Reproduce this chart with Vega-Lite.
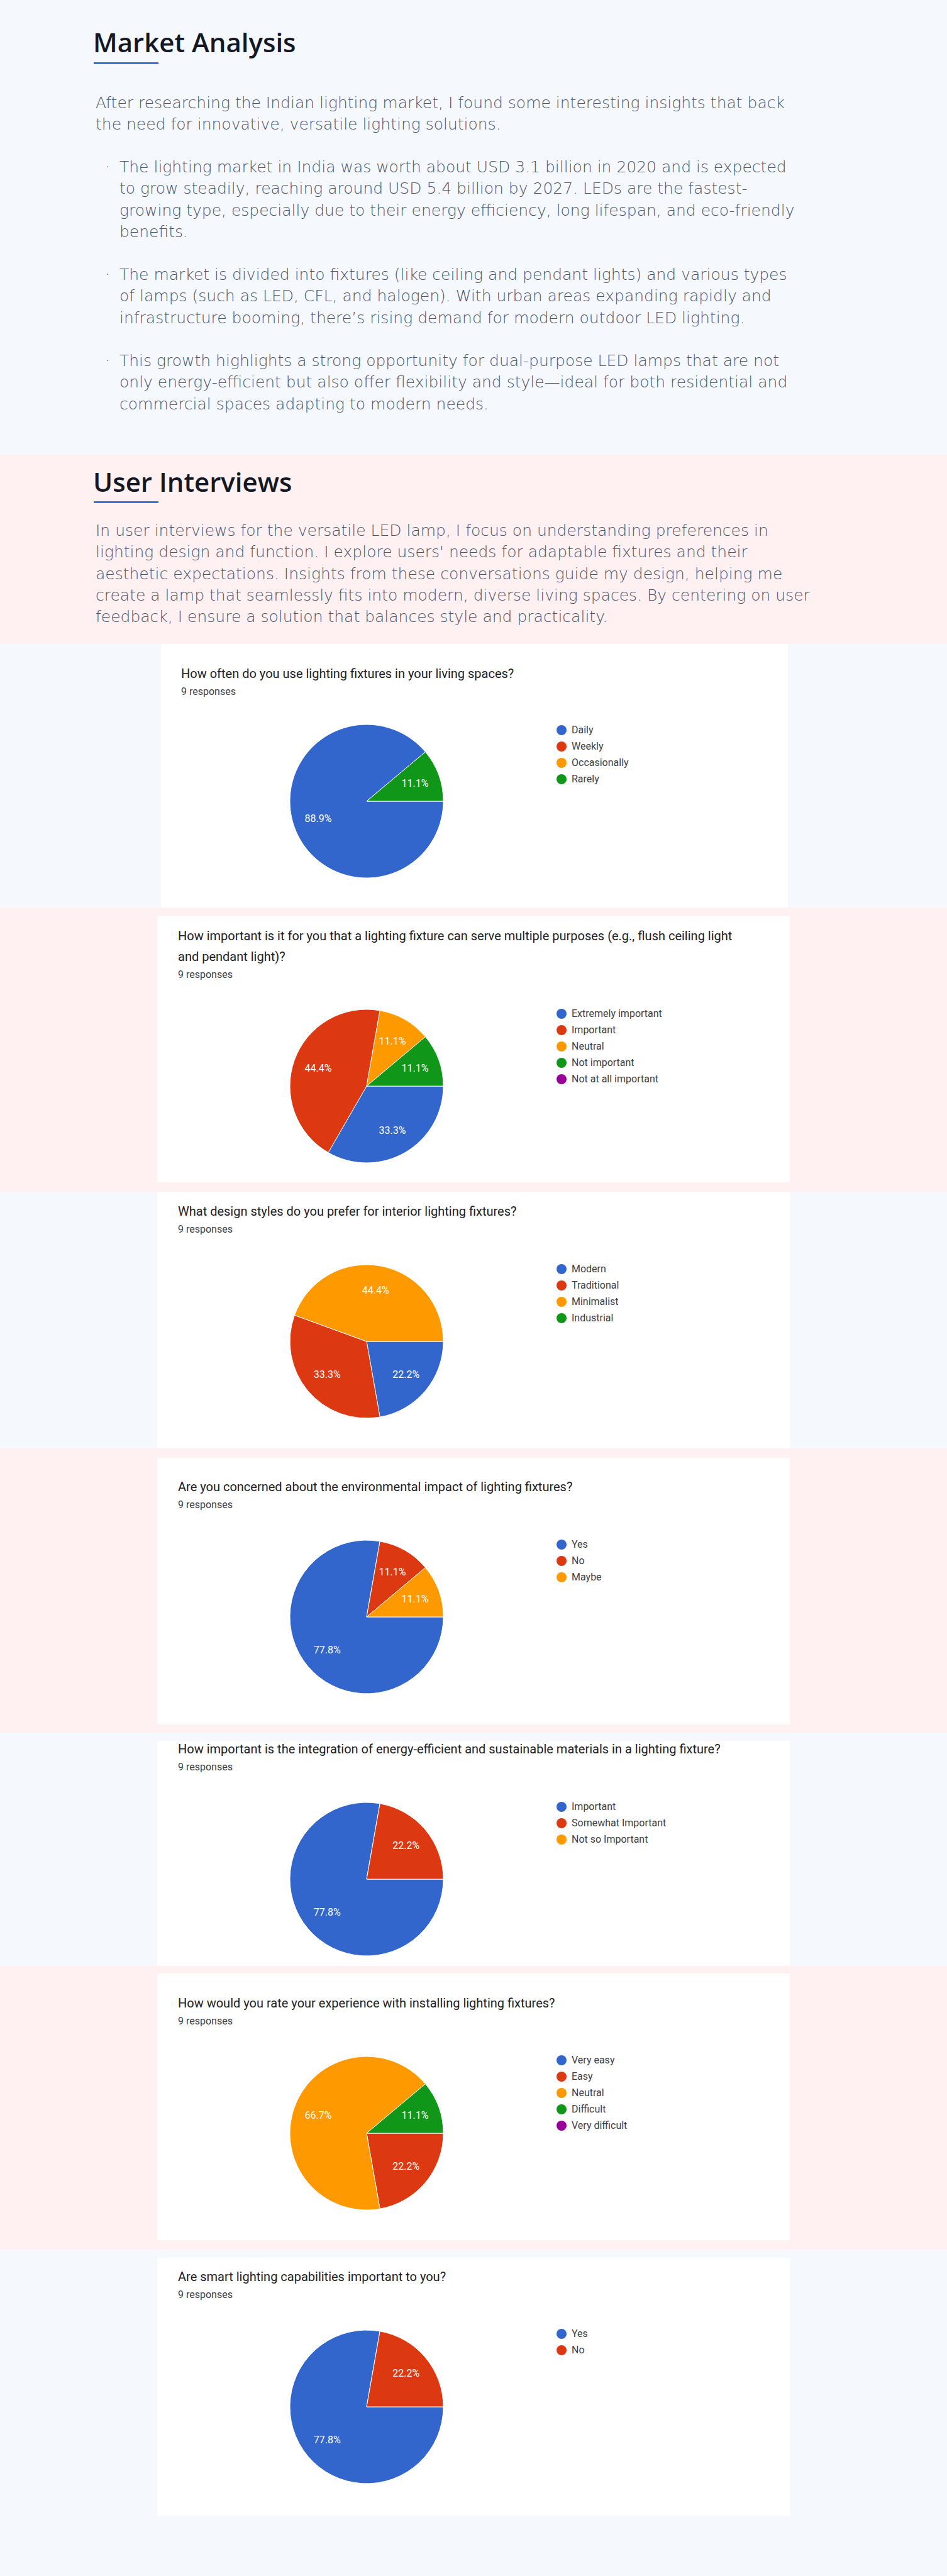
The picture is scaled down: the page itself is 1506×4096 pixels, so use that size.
{
  "$schema": "https://vega.github.io/schema/vega-lite/v6.json",
  "padding": 0,
  "background": "#ffffff",
  "spacing": 0,
  "bounds": "full",
  "resolve": {"scale": {"color": "independent"}},
  "config": {
    "view": {"stroke": null},
    "title": {"anchor": "start", "frame": "group", "orient": "bottom", "font": "Roboto", "fontSize": 20, "fontWeight": 400, "color": "#202124", "subtitleFont": "Roboto", "subtitleFontSize": 16, "subtitleColor": "#3c4043", "subtitlePadding": 10, "lineHeight": 33}
  },
  "datasets": {
    "responses": [
      {"question": 1, "rank": 1, "option": "Daily", "count": 8, "share": 0.8889},
      {"question": 1, "rank": 2, "option": "Weekly", "count": 0, "share": 0},
      {"question": 1, "rank": 3, "option": "Occasionally", "count": 0, "share": 0},
      {"question": 1, "rank": 4, "option": "Rarely", "count": 1, "share": 0.1111},
      {"question": 2, "rank": 1, "option": "Extremely important", "count": 3, "share": 0.3333},
      {"question": 2, "rank": 2, "option": "Important", "count": 4, "share": 0.4444},
      {"question": 2, "rank": 3, "option": "Neutral", "count": 1, "share": 0.1111},
      {"question": 2, "rank": 4, "option": "Not important", "count": 1, "share": 0.1111},
      {"question": 2, "rank": 5, "option": "Not at all important", "count": 0, "share": 0},
      {"question": 3, "rank": 1, "option": "Modern", "count": 2, "share": 0.2222},
      {"question": 3, "rank": 2, "option": "Traditional", "count": 3, "share": 0.3333},
      {"question": 3, "rank": 3, "option": "Minimalist", "count": 4, "share": 0.4444},
      {"question": 3, "rank": 4, "option": "Industrial", "count": 0, "share": 0},
      {"question": 4, "rank": 1, "option": "Yes", "count": 7, "share": 0.7778},
      {"question": 4, "rank": 2, "option": "No", "count": 1, "share": 0.1111},
      {"question": 4, "rank": 3, "option": "Maybe", "count": 1, "share": 0.1111},
      {"question": 5, "rank": 1, "option": "Important", "count": 7, "share": 0.7778},
      {"question": 5, "rank": 2, "option": "Somewhat Important", "count": 2, "share": 0.2222},
      {"question": 5, "rank": 3, "option": "Not so Important", "count": 0, "share": 0},
      {"question": 6, "rank": 1, "option": "Very easy", "count": 0, "share": 0},
      {"question": 6, "rank": 2, "option": "Easy", "count": 2, "share": 0.2222},
      {"question": 6, "rank": 3, "option": "Neutral", "count": 6, "share": 0.6667},
      {"question": 6, "rank": 4, "option": "Difficult", "count": 1, "share": 0.1111},
      {"question": 6, "rank": 5, "option": "Very difficult", "count": 0, "share": 0},
      {"question": 7, "rank": 1, "option": "Yes", "count": 7, "share": 0.7778},
      {"question": 7, "rank": 2, "option": "No", "count": 2, "share": 0.2222}
    ]
  },
  "vconcat": [
    {"width": 1506, "height": 99, "data": {"values": []}, "mark": "rect", "view": {"fill": "#f5f9fe"},
     "title": {"text": "Market Analysis", "font": "Open Sans", "fontSize": 42, "fontWeight": 600, "color": "#141824", "offset": -49, "dx": 148}},
    {"hconcat": [
      {"width": 149, "height": 3, "data": {"values": []}, "mark": "rect", "view": {"fill": "#f5f9fe"}},
      {"width": 103, "height": 3, "data": {"values": []}, "mark": "rect", "view": {"fill": "#3f6fdc"}},
      {"width": 1254, "height": 3, "data": {"values": []}, "mark": "rect", "view": {"fill": "#f5f9fe"}}
    ], "spacing": 0, "bounds": "flush"},
    {"width": 1506, "height": 138, "data": {"values": []}, "mark": "rect", "view": {"fill": "#f5f9fe"},
     "title": {"text": ["After researching the Indian lighting market, I found some interesting insights that back", "the need for innovative, versatile lighting solutions."], "font": "DejaVu Sans ExtraLight, DejaVu Sans", "fontSize": 25, "fontWeight": 200, "color": "#4e5569", "lineHeight": 34.3, "offset": -88, "dx": 152}},
    {"hconcat": [
      {"width": 190, "height": 171, "data": {"values": []}, "mark": "rect", "view": {"fill": "#f5f9fe"},
       "title": {"text": "·", "font": "DejaVu Sans ExtraLight, DejaVu Sans", "fontSize": 25, "fontWeight": 200, "color": "#4e5569", "offset": -157, "dx": 167}},
      {"width": 1316, "height": 171, "data": {"values": []}, "mark": "rect", "view": {"fill": "#f5f9fe"},
       "title": {"text": [
         "The lighting market in India was worth about USD 3.1 billion in 2020 and is expected",
         "to grow steadily, reaching around USD 5.4 billion by 2027. LEDs are the fastest-",
         "growing type, especially due to their energy efficiency, long lifespan, and eco-friendly",
         "benefits."
       ], "font": "DejaVu Sans ExtraLight, DejaVu Sans", "fontSize": 25, "fontWeight": 200, "color": "#4e5569", "lineHeight": 34.3, "offset": -157, "dx": 0}}
    ], "spacing": 0, "bounds": "flush"},
    {"hconcat": [
      {"width": 190, "height": 137, "data": {"values": []}, "mark": "rect", "view": {"fill": "#f5f9fe"},
       "title": {"text": "·", "font": "DejaVu Sans ExtraLight, DejaVu Sans", "fontSize": 25, "fontWeight": 200, "color": "#4e5569", "offset": -123, "dx": 167}},
      {"width": 1316, "height": 137, "data": {"values": []}, "mark": "rect", "view": {"fill": "#f5f9fe"},
       "title": {"text": [
         "The market is divided into fixtures (like ceiling and pendant lights) and various types",
         "of lamps (such as LED, CFL, and halogen). With urban areas expanding rapidly and",
         "infrastructure booming, there’s rising demand for modern outdoor LED lighting."
       ], "font": "DejaVu Sans ExtraLight, DejaVu Sans", "fontSize": 25, "fontWeight": 200, "color": "#4e5569", "lineHeight": 34.3, "offset": -123, "dx": 0}}
    ], "spacing": 0, "bounds": "flush"},
    {"hconcat": [
      {"width": 190, "height": 175, "data": {"values": []}, "mark": "rect", "view": {"fill": "#f5f9fe"},
       "title": {"text": "·", "font": "DejaVu Sans ExtraLight, DejaVu Sans", "fontSize": 25, "fontWeight": 200, "color": "#4e5569", "offset": -161, "dx": 167}},
      {"width": 1316, "height": 175, "data": {"values": []}, "mark": "rect", "view": {"fill": "#f5f9fe"},
       "title": {"text": [
         "This growth highlights a strong opportunity for dual-purpose LED lamps that are not",
         "only energy-efficient but also offer flexibility and style—ideal for both residential and",
         "commercial spaces adapting to modern needs."
       ], "font": "DejaVu Sans ExtraLight, DejaVu Sans", "fontSize": 25, "fontWeight": 200, "color": "#4e5569", "lineHeight": 34.3, "offset": -161, "dx": 0}}
    ], "spacing": 0, "bounds": "flush"},
    {"width": 1506, "height": 74, "data": {"values": []}, "mark": "rect", "view": {"fill": "#fff1f1"},
     "title": {"text": "User Interviews", "font": "Open Sans", "fontSize": 42, "fontWeight": 600, "color": "#141824", "offset": -48, "dx": 148}},
    {"hconcat": [
      {"width": 149, "height": 3, "data": {"values": []}, "mark": "rect", "view": {"fill": "#fff1f1"}},
      {"width": 103, "height": 3, "data": {"values": []}, "mark": "rect", "view": {"fill": "#3f6fdc"}},
      {"width": 1254, "height": 3, "data": {"values": []}, "mark": "rect", "view": {"fill": "#fff1f1"}}
    ], "spacing": 0, "bounds": "flush"},
    {"width": 1506, "height": 224, "data": {"values": []}, "mark": "rect", "view": {"fill": "#fff1f1"},
     "title": {"text": [
       "In user interviews for the versatile LED lamp, I focus on understanding preferences in",
       "lighting design and function. I explore users' needs for adaptable fixtures and their",
       "aesthetic expectations. Insights from these conversations guide my design, helping me",
       "create a lamp that seamlessly fits into modern, diverse living spaces. By centering on user",
       "feedback, I ensure a solution that balances style and practicality."
     ], "font": "DejaVu Sans ExtraLight, DejaVu Sans", "fontSize": 25, "fontWeight": 200, "color": "#4e5569", "lineHeight": 34.3, "offset": -192, "dx": 152}},

    {"hconcat": [
      {"width": 256, "height": 419, "data": {"values": []}, "mark": "rect", "view": {"fill": "#f5f9fe"}},
      {"vconcat": [
        {"width": 997, "height": 120, "data": {"values": []}, "mark": "rect",
         "title": {"text": "How often do you use lighting fixtures in your living spaces?", "subtitle": "9 responses", "offset": -82, "dx": 32}},
        {"width": 654, "height": 260, "data": {"name": "responses"},
         "transform": [{"filter": "datum.question == 1 && datum.count > 0"}],
         "encoding": {"theta": {"field": "count", "type": "quantitative", "stack": true, "scale": {"range": [1.5707963, 7.8539816]}}, "order": {"field": "rank", "type": "quantitative"}},
         "layer": [
           {"mark": {"type": "arc", "radius": 122, "stroke": "#ffffff", "strokeWidth": 1},
            "encoding": {"color": {"field": "option", "type": "nominal", "scale": {"domain": ["Daily", "Weekly", "Occasionally", "Rarely"], "range": ["#3366cc", "#dc3912", "#ff9900", "#109618"]},
              "legend": {"orient": "none", "legendX": 629, "legendY": 9, "title": null, "direction": "vertical", "symbolType": "circle", "symbolSize": 256, "symbolStrokeWidth": 0, "symbolOpacity": 1, "labelFont": "Roboto", "labelFontSize": 16, "labelColor": "#3c4043", "labelOffset": 8, "rowPadding": 10, "padding": 0}}}},
           {"mark": {"type": "text", "radius": 82, "font": "Roboto", "fontSize": 16, "fill": "#ffffff"},
            "encoding": {"text": {"field": "share", "type": "quantitative", "format": ".1%"}}}
         ]}
      ], "spacing": 0, "bounds": "flush", "resolve": {"scale": {"color": "independent"}}},
      {"width": 253, "height": 419, "data": {"values": []}, "mark": "rect", "view": {"fill": "#f5f9fe"}}
    ], "spacing": 0, "bounds": "full", "resolve": {"scale": {"color": "independent"}}},

    {"width": 1506, "height": 14, "data": {"values": []}, "mark": "rect", "view": {"fill": "#fff1f1"}},
    {"hconcat": [
      {"width": 250, "height": 423, "data": {"values": []}, "mark": "rect", "view": {"fill": "#fff1f1"}},
      {"vconcat": [
        {"width": 1006, "height": 140, "data": {"values": []}, "mark": "rect",
         "title": {"text": ["How important is it for you that a lighting fixture can serve multiple purposes (e.g., flush ceiling light", "and pendant light)?"], "subtitle": "9 responses", "offset": -118, "dx": 33}},
        {"width": 666, "height": 260, "data": {"name": "responses"},
         "transform": [{"filter": "datum.question == 2 && datum.count > 0"}],
         "encoding": {"theta": {"field": "count", "type": "quantitative", "stack": true, "scale": {"range": [1.5707963, 7.8539816]}}, "order": {"field": "rank", "type": "quantitative"}},
         "layer": [
           {"mark": {"type": "arc", "radius": 122, "stroke": "#ffffff", "strokeWidth": 1},
            "encoding": {"color": {"field": "option", "type": "nominal", "scale": {"domain": ["Extremely important", "Important", "Neutral", "Not important", "Not at all important"], "range": ["#3366cc", "#dc3912", "#ff9900", "#109618", "#990099"]},
              "legend": {"orient": "none", "legendX": 635, "legendY": 7, "title": null, "direction": "vertical", "symbolType": "circle", "symbolSize": 256, "symbolStrokeWidth": 0, "symbolOpacity": 1, "labelFont": "Roboto", "labelFontSize": 16, "labelColor": "#3c4043", "labelOffset": 8, "rowPadding": 10, "padding": 0}}}},
           {"mark": {"type": "text", "radius": 82, "font": "Roboto", "fontSize": 16, "fill": "#ffffff"},
            "encoding": {"text": {"field": "share", "type": "quantitative", "format": ".1%"}}}
         ]}
      ], "spacing": 0, "bounds": "flush", "resolve": {"scale": {"color": "independent"}}},
      {"width": 250, "height": 423, "data": {"values": []}, "mark": "rect", "view": {"fill": "#fff1f1"}}
    ], "spacing": 0, "bounds": "full", "resolve": {"scale": {"color": "independent"}}},
    {"width": 1506, "height": 15, "data": {"values": []}, "mark": "rect", "view": {"fill": "#fff1f1"}},

    {"hconcat": [
      {"width": 250, "height": 408, "data": {"values": []}, "mark": "rect", "view": {"fill": "#f5f9fe"}},
      {"vconcat": [
        {"width": 1006, "height": 108, "data": {"values": []}, "mark": "rect",
         "title": {"text": "What design styles do you prefer for interior lighting fixtures?", "subtitle": "9 responses", "offset": -86, "dx": 33}},
        {"width": 666, "height": 260, "data": {"name": "responses"},
         "transform": [{"filter": "datum.question == 3 && datum.count > 0"}],
         "encoding": {"theta": {"field": "count", "type": "quantitative", "stack": true, "scale": {"range": [1.5707963, 7.8539816]}}, "order": {"field": "rank", "type": "quantitative"}},
         "layer": [
           {"mark": {"type": "arc", "radius": 122, "stroke": "#ffffff", "strokeWidth": 1},
            "encoding": {"color": {"field": "option", "type": "nominal", "scale": {"domain": ["Modern", "Traditional", "Minimalist", "Industrial"], "range": ["#3366cc", "#dc3912", "#ff9900", "#109618"]},
              "legend": {"orient": "none", "legendX": 635, "legendY": 7, "title": null, "direction": "vertical", "symbolType": "circle", "symbolSize": 256, "symbolStrokeWidth": 0, "symbolOpacity": 1, "labelFont": "Roboto", "labelFontSize": 16, "labelColor": "#3c4043", "labelOffset": 8, "rowPadding": 10, "padding": 0}}}},
           {"mark": {"type": "text", "radius": 82, "font": "Roboto", "fontSize": 16, "fill": "#ffffff"},
            "encoding": {"text": {"field": "share", "type": "quantitative", "format": ".1%"}}}
         ]}
      ], "spacing": 0, "bounds": "flush", "resolve": {"scale": {"color": "independent"}}},
      {"width": 250, "height": 408, "data": {"values": []}, "mark": "rect", "view": {"fill": "#f5f9fe"}}
    ], "spacing": 0, "bounds": "full", "resolve": {"scale": {"color": "independent"}}},

    {"width": 1506, "height": 15, "data": {"values": []}, "mark": "rect", "view": {"fill": "#fff1f1"}},
    {"hconcat": [
      {"width": 250, "height": 424, "data": {"values": []}, "mark": "rect", "view": {"fill": "#fff1f1"}},
      {"vconcat": [
        {"width": 1006, "height": 123, "data": {"values": []}, "mark": "rect",
         "title": {"text": "Are you concerned about the environmental impact of lighting fixtures?", "subtitle": "9 responses", "offset": -86, "dx": 33}},
        {"width": 666, "height": 260, "data": {"name": "responses"},
         "transform": [{"filter": "datum.question == 4 && datum.count > 0"}],
         "encoding": {"theta": {"field": "count", "type": "quantitative", "stack": true, "scale": {"range": [1.5707963, 7.8539816]}}, "order": {"field": "rank", "type": "quantitative"}},
         "layer": [
           {"mark": {"type": "arc", "radius": 122, "stroke": "#ffffff", "strokeWidth": 1},
            "encoding": {"color": {"field": "option", "type": "nominal", "scale": {"domain": ["Yes", "No", "Maybe"], "range": ["#3366cc", "#dc3912", "#ff9900"]},
              "legend": {"orient": "none", "legendX": 635, "legendY": 7, "title": null, "direction": "vertical", "symbolType": "circle", "symbolSize": 256, "symbolStrokeWidth": 0, "symbolOpacity": 1, "labelFont": "Roboto", "labelFontSize": 16, "labelColor": "#3c4043", "labelOffset": 8, "rowPadding": 10, "padding": 0}}}},
           {"mark": {"type": "text", "radius": 82, "font": "Roboto", "fontSize": 16, "fill": "#ffffff"},
            "encoding": {"text": {"field": "share", "type": "quantitative", "format": ".1%"}}}
         ]}
      ], "spacing": 0, "bounds": "flush", "resolve": {"scale": {"color": "independent"}}},
      {"width": 250, "height": 424, "data": {"values": []}, "mark": "rect", "view": {"fill": "#fff1f1"}}
    ], "spacing": 0, "bounds": "full", "resolve": {"scale": {"color": "independent"}}},
    {"width": 1506, "height": 13, "data": {"values": []}, "mark": "rect", "view": {"fill": "#fff1f1"}},

    {"width": 1506, "height": 13, "data": {"values": []}, "mark": "rect", "view": {"fill": "#f5f9fe"}},
    {"hconcat": [
      {"width": 250, "height": 358, "data": {"values": []}, "mark": "rect", "view": {"fill": "#f5f9fe"}},
      {"vconcat": [
        {"width": 1006, "height": 90, "data": {"values": []}, "mark": "rect",
         "title": {"text": "How important is the integration of energy-efficient and sustainable materials in a lighting fixture?", "subtitle": "9 responses", "offset": -86, "dx": 33}},
        {"width": 666, "height": 260, "data": {"name": "responses"},
         "transform": [{"filter": "datum.question == 5 && datum.count > 0"}],
         "encoding": {"theta": {"field": "count", "type": "quantitative", "stack": true, "scale": {"range": [1.5707963, 7.8539816]}}, "order": {"field": "rank", "type": "quantitative"}},
         "layer": [
           {"mark": {"type": "arc", "radius": 122, "stroke": "#ffffff", "strokeWidth": 1},
            "encoding": {"color": {"field": "option", "type": "nominal", "scale": {"domain": ["Important", "Somewhat Important", "Not so Important"], "range": ["#3366cc", "#dc3912", "#ff9900"]},
              "legend": {"orient": "none", "legendX": 635, "legendY": 7, "title": null, "direction": "vertical", "symbolType": "circle", "symbolSize": 256, "symbolStrokeWidth": 0, "symbolOpacity": 1, "labelFont": "Roboto", "labelFontSize": 16, "labelColor": "#3c4043", "labelOffset": 8, "rowPadding": 10, "padding": 0}}}},
           {"mark": {"type": "text", "radius": 82, "font": "Roboto", "fontSize": 16, "fill": "#ffffff"},
            "encoding": {"text": {"field": "share", "type": "quantitative", "format": ".1%"}}}
         ]}
      ], "spacing": 0, "bounds": "flush", "resolve": {"scale": {"color": "independent"}}},
      {"width": 250, "height": 358, "data": {"values": []}, "mark": "rect", "view": {"fill": "#f5f9fe"}}
    ], "spacing": 0, "bounds": "full", "resolve": {"scale": {"color": "independent"}}},

    {"width": 1506, "height": 12, "data": {"values": []}, "mark": "rect", "view": {"fill": "#fff1f1"}},
    {"hconcat": [
      {"width": 250, "height": 424, "data": {"values": []}, "mark": "rect", "view": {"fill": "#fff1f1"}},
      {"vconcat": [
        {"width": 1006, "height": 124, "data": {"values": []}, "mark": "rect",
         "title": {"text": "How would you rate your experience with installing lighting fixtures?", "subtitle": "9 responses", "offset": -86, "dx": 33}},
        {"width": 666, "height": 260, "data": {"name": "responses"},
         "transform": [{"filter": "datum.question == 6 && datum.count > 0"}],
         "encoding": {"theta": {"field": "count", "type": "quantitative", "stack": true, "scale": {"range": [1.5707963, 7.8539816]}}, "order": {"field": "rank", "type": "quantitative"}},
         "layer": [
           {"mark": {"type": "arc", "radius": 122, "stroke": "#ffffff", "strokeWidth": 1},
            "encoding": {"color": {"field": "option", "type": "nominal", "scale": {"domain": ["Very easy", "Easy", "Neutral", "Difficult", "Very difficult"], "range": ["#3366cc", "#dc3912", "#ff9900", "#109618", "#990099"]},
              "legend": {"orient": "none", "legendX": 635, "legendY": 6, "title": null, "direction": "vertical", "symbolType": "circle", "symbolSize": 256, "symbolStrokeWidth": 0, "symbolOpacity": 1, "labelFont": "Roboto", "labelFontSize": 16, "labelColor": "#3c4043", "labelOffset": 8, "rowPadding": 10, "padding": 0}}}},
           {"mark": {"type": "text", "radius": 82, "font": "Roboto", "fontSize": 16, "fill": "#ffffff"},
            "encoding": {"text": {"field": "share", "type": "quantitative", "format": ".1%"}}}
         ]}
      ], "spacing": 0, "bounds": "flush", "resolve": {"scale": {"color": "independent"}}},
      {"width": 250, "height": 424, "data": {"values": []}, "mark": "rect", "view": {"fill": "#fff1f1"}}
    ], "spacing": 0, "bounds": "full", "resolve": {"scale": {"color": "independent"}}},
    {"width": 1506, "height": 15, "data": {"values": []}, "mark": "rect", "view": {"fill": "#fff1f1"}},

    {"width": 1506, "height": 13, "data": {"values": []}, "mark": "rect", "view": {"fill": "#f5f9fe"}},
    {"hconcat": [
      {"width": 250, "height": 410, "data": {"values": []}, "mark": "rect", "view": {"fill": "#f5f9fe"}},
      {"vconcat": [
        {"width": 1006, "height": 107, "data": {"values": []}, "mark": "rect",
         "title": {"text": "Are smart lighting capabilities important to you?", "subtitle": "9 responses", "offset": -86, "dx": 33}},
        {"width": 666, "height": 260, "data": {"name": "responses"},
         "transform": [{"filter": "datum.question == 7 && datum.count > 0"}],
         "encoding": {"theta": {"field": "count", "type": "quantitative", "stack": true, "scale": {"range": [1.5707963, 7.8539816]}}, "order": {"field": "rank", "type": "quantitative"}},
         "layer": [
           {"mark": {"type": "arc", "radius": 122, "stroke": "#ffffff", "strokeWidth": 1},
            "encoding": {"color": {"field": "option", "type": "nominal", "scale": {"domain": ["Yes", "No"], "range": ["#3366cc", "#dc3912"]},
              "legend": {"orient": "none", "legendX": 635, "legendY": 6, "title": null, "direction": "vertical", "symbolType": "circle", "symbolSize": 256, "symbolStrokeWidth": 0, "symbolOpacity": 1, "labelFont": "Roboto", "labelFontSize": 16, "labelColor": "#3c4043", "labelOffset": 8, "rowPadding": 10, "padding": 0}}}},
           {"mark": {"type": "text", "radius": 82, "font": "Roboto", "fontSize": 16, "fill": "#ffffff"},
            "encoding": {"text": {"field": "share", "type": "quantitative", "format": ".1%"}}}
         ]}
      ], "spacing": 0, "bounds": "flush", "resolve": {"scale": {"color": "independent"}}},
      {"width": 250, "height": 410, "data": {"values": []}, "mark": "rect", "view": {"fill": "#f5f9fe"}}
    ], "spacing": 0, "bounds": "full", "resolve": {"scale": {"color": "independent"}}},
    {"width": 1506, "height": 96, "data": {"values": []}, "mark": "rect", "view": {"fill": "#f5f9fe"}}
  ]
}
